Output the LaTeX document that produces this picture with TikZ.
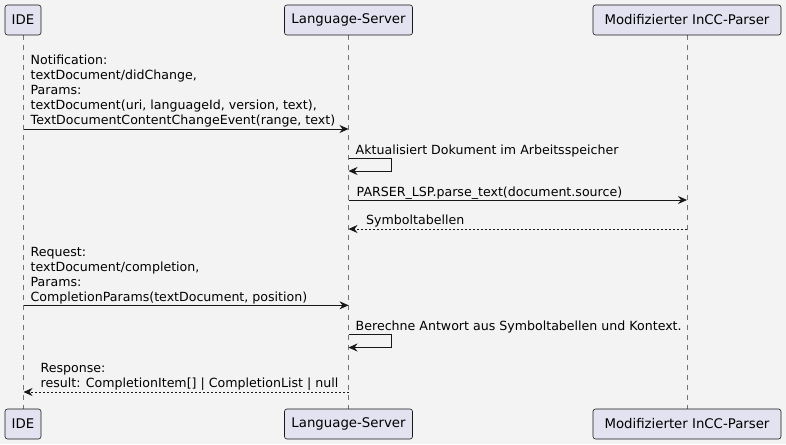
\documentclass[tikz,border=0pt]{standalone}
\usepackage{fontspec}
\setmainfont{DejaVu Sans}
\usetikzlibrary{arrows.meta}
\definecolor{bgc}{HTML}{F3F3F3}
\definecolor{boxc}{HTML}{E2E2F0}
\definecolor{linec}{HTML}{181818}
\tikzset{
  part/.style={draw=linec, fill=boxc, rounded corners=2.5pt, line width=0.6pt, minimum height=30pt, inner sep=0pt, font=\fontsize{13.3}{16}\selectfont},
  life/.style={draw=linec!60, line width=0.5pt, dash pattern=on 5pt off 5pt},
  msg/.style={draw=linec, line width=0.8pt, -{Stealth[length=9pt,width=8pt,inset=3pt]}},
  ret/.style={msg, dash pattern=on 2pt off 2pt},
  lbl/.style={anchor=north west, inner sep=0pt, align=left, font=\fontsize{12.6}{15}\selectfont, text=black}
}
\begin{document}
\begin{tikzpicture}[x=1pt,y=-1pt]
\fill[bgc] (0,0) rectangle (786,444);
\useasboundingbox (0,0) rectangle (786,444);
% lifelines
\coordinate (ideT) at (23.5,35); \coordinate (ideB) at (23.5,409);
\coordinate (lsT) at (348.5,35); \coordinate (lsB) at (348.5,409);
\coordinate (psT) at (687,35); \coordinate (psB) at (687,409);
\draw[life] (ideT) -- (ideB);
\draw[life] (lsT) -- (lsB);
\draw[life] (psT) -- (psB);
% participants
\node[part, minimum width=36pt] (ide1) at (23,20) {IDE};
\node[part, minimum width=128pt] (ls1) at (348.5,20) {Language-Server};
\node[part, minimum width=188pt] (ps1) at (687,20) {Modifizierter InCC-Parser};
\node[part, minimum width=36pt] (ide2) at (23,424) {IDE};
\node[part, minimum width=128pt] (ls2) at (348.5,424) {Language-Server};
\node[part, minimum width=188pt] (ps2) at (687,424) {Modifizierter InCC-Parser};
% message 1
\coordinate (m1a) at (23.5,129); \coordinate (m1b) at (348.5,129);
\draw[msg] (m1a) -- (m1b);
\node[lbl] (t1) at (30.5,54.3) {Notification:\\textDocument/didChange,\\Params:\\textDocument(uri, languageId, version, text),\\TextDocumentContentChangeEvent(range, text)};
% self 1
\coordinate (s1a) at (348.5,158.3); \coordinate (s1b) at (348.5,171);
\draw[msg] (s1a) -- (391,158.3) -- (391,171) -- (s1b);
\node[lbl] (t2) at (355.5,144.3) {Aktualisiert Dokument im Arbeitsspeicher};
% message 3
\coordinate (m3a) at (348.5,200); \coordinate (m3b) at (687,200);
\draw[msg] (m3a) -- (m3b);
\node[lbl] (t3) at (356.5,186.5) {PARSER\_LSP.parse\_text(document.source)};
% message 4
\coordinate (m4a) at (687,229); \coordinate (m4b) at (348.5,229);
\draw[ret] (m4a) -- (m4b);
\node[lbl] (t4) at (366,215) {Symboltabellen};
% message 5
\coordinate (m5a) at (23.5,305.3); \coordinate (m5b) at (348.5,305.3);
\draw[msg] (m5a) -- (m5b);
\node[lbl] (t5) at (30.5,246.8) {Request:\\textDocument/completion,\\Params:\\CompletionParams(textDocument, position)};
% self 2
\coordinate (s2a) at (348.5,334.5); \coordinate (s2b) at (348.5,347.5);
\draw[msg] (s2a) -- (391.5,334.5) -- (391.5,347.5) -- (s2b);
\node[lbl] (t6) at (355.5,321) {Berechne Antwort aus Symboltabellen und Kontext.};
% message 7
\coordinate (m7a) at (348.5,392); \coordinate (m7b) at (23.5,392);
\draw[ret] (m7a) -- (m7b);
\node[lbl] (t7) at (40.5,363) {Response:\\result: CompletionItem[] | CompletionList | null};
\end{tikzpicture}
\end{document}
